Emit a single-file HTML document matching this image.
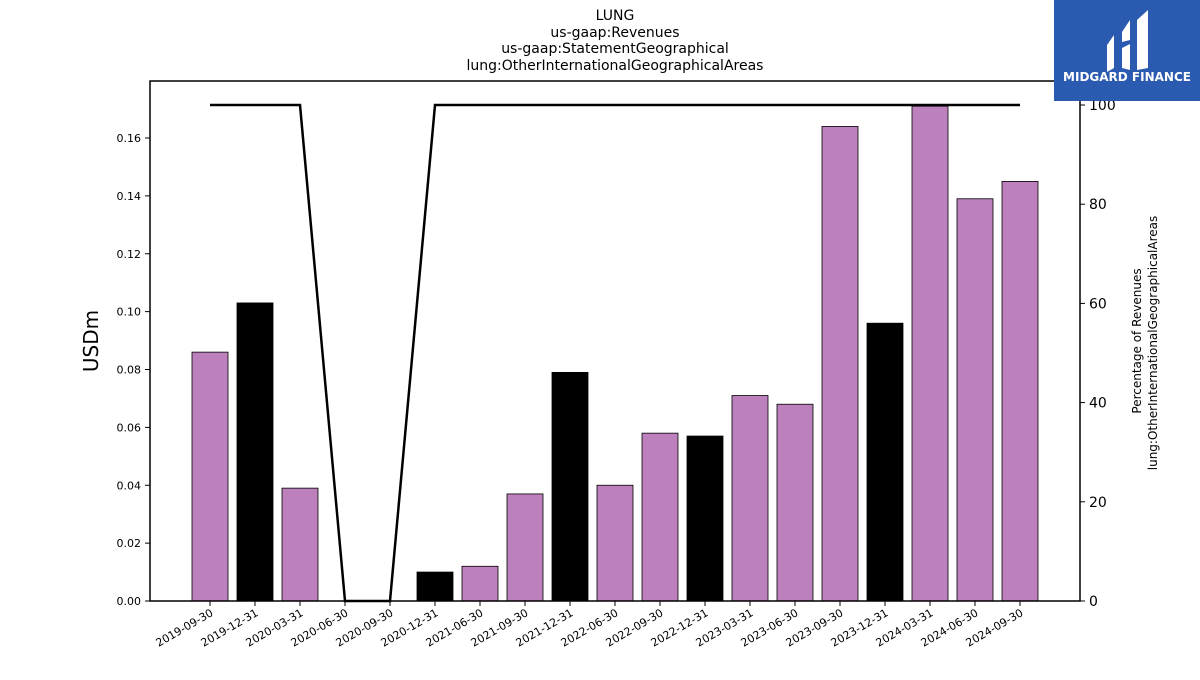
<!DOCTYPE html>
<html><head><meta charset="utf-8"><style>
body{margin:0;background:#fff;font-family:"Liberation Sans","DejaVu Sans",sans-serif}
</style></head><body>
<svg id="chart" width="1200" height="675" xmlns="http://www.w3.org/2000/svg" font-family="DejaVu Sans, Liberation Sans, sans-serif">
<g font-size="14" text-anchor="middle" fill="#000">
<text x="615" y="20">LUNG</text>
<text x="615" y="37">us-gaap:Revenues</text>
<text x="615" y="53">us-gaap:StatementGeographical</text>
<text x="615" y="70">lung:OtherInternationalGeographicalAreas</text>
</g>
<g id="bars"></g>
<g id="line"></g>
<g id="axes"></g>
<text transform="translate(98,341) rotate(-90)" font-size="20" text-anchor="middle">USDm</text>
<g font-size="12" text-anchor="middle">
<text transform="translate(1141,341) rotate(-90)">Percentage of Revenues</text>
<text transform="translate(1157,343) rotate(-90)">lung:OtherInternationalGeographicalAreas</text>
</g>
<g>
<rect x="1054" y="0" width="146" height="101" fill="#2b5bb0"/>
<path d="M1107 45 L1114 35 L1114 68 L1107 72 Z M1122 32 L1130 20 L1130 40 L1122 42 Z M1122 48 L1130 44 L1130 70 L1122 68 Z M1137 20 L1148 10 L1148 68 L1137 70 Z" fill="#fff"/>
<text x="1127" y="81" font-size="12" font-weight="bold" fill="#fff" text-anchor="middle">MIDGARD FINANCE</text>
</g>
</svg>
<script>
const categories=["2019-09-30","2019-12-31","2020-03-31","2020-06-30","2020-09-30","2020-12-31","2021-06-30","2021-09-30","2021-12-31","2022-06-30","2022-09-30","2022-12-31","2023-03-31","2023-06-30","2023-09-30","2023-12-31","2024-03-31","2024-06-30","2024-09-30"];
const revenues=[0.086,0.103,0.039,0,0,0.010,0.012,0.037,0.079,0.040,0.058,0.057,0.071,0.068,0.164,0.096,0.171,0.139,0.145];
const percentages=[100,100,100,0,0,100,100,100,100,100,100,100,100,100,100,100,100,100,100];
const leftTicks=[0,0.02,0.04,0.06,0.08,0.10,0.12,0.14,0.16];
const rightTicks=[0,20,40,60,80,100];
const NS="http://www.w3.org/2000/svg";
const L=150,R=1080,T=81,B=601;
const x=i=>210+i*45;
const yL=v=>B-v*(B-138)/0.16;
const yR=v=>B-v*(B-105)/100;
function mk(tag,attrs,parent){const e=document.createElementNS(NS,tag);for(const k in attrs)e.setAttribute(k,attrs[k]);parent.appendChild(e);return e;}
const bars=document.getElementById('bars'),line=document.getElementById('line'),axes=document.getElementById('axes');
revenues.forEach((v,i)=>{
 const black=categories[i].endsWith('12-31');
 const r=mk('rect',{x:x(i)-18,y:yL(v),width:36,height:B-yL(v),fill:black?'#000':'#bc80bd',stroke:'#000','stroke-width':0.8},bars);
 
 
});
const p=mk('polyline',{points:percentages.map((v,i)=>x(i)+','+yR(v)).join(' '),fill:'none',stroke:'#000','stroke-width':2.5},line);


const frame=mk('rect',{x:L,y:T,width:R-L,height:B-T,fill:'none',stroke:'#000','stroke-width':1.5},axes);


leftTicks.forEach(v=>{
 mk('line',{x1:L-5,x2:L,y1:yL(v),y2:yL(v),stroke:'#000'},axes);
 const t=mk('text',{x:L-9,y:yL(v)+4,'font-size':11,'text-anchor':'end'},axes);
 t.textContent=v.toFixed(2);
 
 
});
rightTicks.forEach(v=>{
 mk('line',{x1:R,x2:R+5,y1:yR(v),y2:yR(v),stroke:'#000'},axes);
 const t=mk('text',{x:R+9,y:yR(v)+5,'font-size':14},axes);
 t.textContent=v;
 
 
});
categories.forEach((c,i)=>{
 mk('line',{x1:x(i),x2:x(i),y1:B,y2:B+5,stroke:'#000'},axes);
 const t=mk('text',{transform:`translate(${x(i)+4},${B+14}) rotate(-30)`,'font-size':11,'text-anchor':'end'},axes);
 t.textContent=c;
 
 
});
</script>
</body></html>
